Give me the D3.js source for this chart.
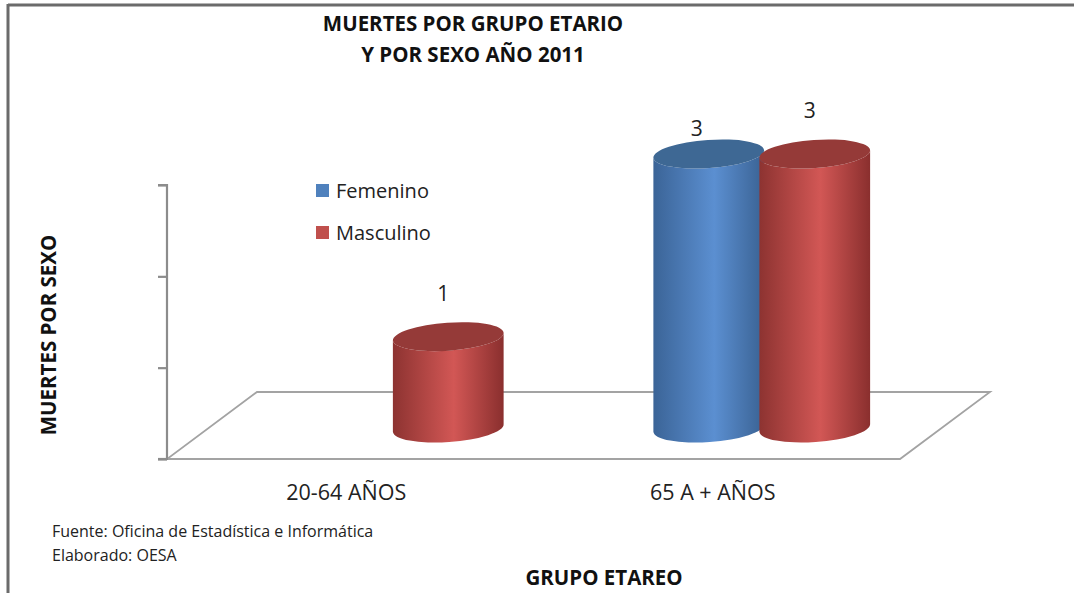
<!DOCTYPE html>
<html><head><meta charset="utf-8">
<script src="https://cdn.jsdelivr.net/npm/d3@7"></script>
<style>
html,body{margin:0;padding:0;background:#fff;}
svg{display:block;font-family:"Open Sans",sans-serif;}
</style></head>
<body>
<svg id="chart" width="1074" height="593"></svg>
<script>
// ---- data ----
const categories = ["20-64 AÑOS", "65 A + AÑOS"];
const seriesNames = ["Femenino", "Masculino"];
const femenino = [0, 3];
const masculino = [1, 3];
const yTicks = [0, 1, 2, 3];
const titleLines = ["MUERTES POR GRUPO ETARIO", "Y POR SEXO AÑO 2011"];
const yTitle = "MUERTES POR SEXO";
const xTitle = "GRUPO ETAREO";
const notes = ["Fuente: Oficina de Estadística e Informática", "Elaborado: OESA"];

const seriesValues = [femenino, masculino];
const colors = {
  Femenino: {edge:"#3b6497", light:"#5b8fd1", right:"#3a6293", top:"#3e6894"},
  Masculino:{edge:"#8d3331", light:"#d25755", right:"#8a2f2e", top:"#953a38"}
};

const svg = d3.select("#chart");
const W = 1074, H = 593;

// frame
svg.append("line").attr("x1",8).attr("x2",W).attr("y1",5).attr("y2",5).attr("stroke","#6b6b6b").attr("stroke-width",3);
svg.append("line").attr("x1",8).attr("x2",8).attr("y1",4).attr("y2",H).attr("stroke","#6b6b6b").attr("stroke-width",3);

// scales (front plane)
const x0 = d3.scaleBand().domain(categories).range([167, 900]).padding(0);
const y = d3.scaleLinear().domain([0, 3]).range([459, 185]);
const depthX = 90, depthY = 67;     // floor depth
const barDX = 45, barDY = 31;       // bars placed mid-depth
const barW = 111, barGap = 53;      // half distance between series centers
const ry = 14, tilt = -4;           // ellipse radius & tilt (deg)

// floor
const fl = 167, fr = 900, fy = y(0);
svg.append("path")
  .attr("d", `M${fl},${fy} L${fr},${fy} L${fr+depthX},${fy-depthY} L${fl+depthX},${fy-depthY} Z`)
  .attr("fill","none").attr("stroke","#a3a3a3").attr("stroke-width",1.8);

// y axis
const yAxis = d3.axisLeft(y).tickValues(yTicks).tickSize(9).tickFormat("");
const ya = svg.append("g").attr("transform", `translate(${fl},0)`).call(yAxis);
ya.select(".domain").attr("stroke","#8c8c8c").attr("stroke-width",2.2).attr("d", `M-9,${y(3)}H0V${y(0)}H-9`);
ya.selectAll(".tick line").attr("stroke","#8c8c8c").attr("stroke-width",2.2);
svg.append("line").attr("x1",fl-9).attr("x2",fl).attr("y1",fy).attr("y2",fy).attr("stroke","#8c8c8c").attr("stroke-width",2.2);

// gradients
const defs = svg.append("defs");
seriesNames.forEach(s => {
  const g = defs.append("linearGradient").attr("id","g-"+s).attr("x1",0).attr("x2",1).attr("y1",0).attr("y2",0);
  g.append("stop").attr("offset","0%").attr("stop-color",colors[s].edge);
  g.append("stop").attr("offset","55%").attr("stop-color",colors[s].light);
  g.append("stop").attr("offset","100%").attr("stop-color",colors[s].right);
});

// bars data
const bars = [];
categories.forEach((c, i) => {
  seriesNames.forEach((s, j) => {
    bars.push({cat:c, series:s, j, value: seriesValues[j][i]});
  });
});

const rad = tilt * Math.PI / 180;
const a = barW / 2;
const ex = a * Math.cos(rad), ey = a * Math.sin(rad);

const barG = svg.append("g");
bars.filter(d => d.value > 0).forEach(d => {
  const cx = x0(d.cat) + x0.bandwidth()/2 + barDX + (d.j === 0 ? -barGap : barGap);
  const yb = y(0) - barDY;
  const yt = y(d.value) - barDY;
  const side = `M${cx-ex},${yt-ey} A${a},${ry} ${tilt} 0 0 ${cx+ex},${yt+ey} L${cx+ex},${yb+ey} A${a},${ry} ${tilt} 0 1 ${cx-ex},${yb-ey} Z`;
  barG.append("path").attr("d", side).attr("fill", `url(#g-${d.series})`);
  barG.append("ellipse").attr("cx",cx).attr("cy",yt).attr("rx",a).attr("ry",ry)
    .attr("transform",`rotate(${tilt},${cx},${yt})`).attr("fill",colors[d.series].top);
  d.cx = cx; d.yt = yt;
});

// value labels
const lblOff = {Femenino:{dx:-12, dy:-18}, Masculino:{dx:-5, dy:-36}};
bars.filter(d => d.value > 0).forEach(d => {
  svg.append("text").attr("x", d.cx + lblOff[d.series].dx).attr("y", d.yt + lblOff[d.series].dy)
    .attr("text-anchor","middle").attr("font-size",21).attr("fill","#222").text(d.value);
});

// category labels
svg.selectAll(".cat").data(categories).join("text")
  .attr("x", d => x0(d) + x0.bandwidth()/2 - 4).attr("y", 500)
  .attr("text-anchor","middle").attr("font-size",21.5).attr("fill","#222").text(d => d);

// legend
const leg = svg.append("g");
seriesNames.forEach((s, i) => {
  leg.append("rect").attr("x",316).attr("y",184 + i*42).attr("width",13).attr("height",13).attr("fill", s === "Femenino" ? "#4f81bd" : "#c0504d");
  leg.append("text").attr("x",336).attr("y",198 + i*42).attr("font-size",20).attr("fill","#222").text(s);
});

// titles
svg.selectAll(".title").data(titleLines).join("text")
  .attr("x", 473).attr("y", (d,i) => 31 + i*31)
  .attr("text-anchor","middle").attr("font-weight","bold").attr("font-size",20.5).attr("fill","#111").text(d => d);

svg.append("text").attr("transform","translate(56,335) rotate(-90)")
  .attr("text-anchor","middle").attr("font-weight","bold").attr("font-size",20.5).attr("fill","#111").text(yTitle);

svg.append("text").attr("x",604).attr("y",585).attr("text-anchor","middle")
  .attr("font-weight","bold").attr("font-size",20.5).attr("fill","#111").text(xTitle);

svg.selectAll(".note").data(notes).join("text")
  .attr("x",52).attr("y",(d,i) => 537 + i*24).attr("font-size",16).attr("fill","#222").text(d => d);
</script>
</body></html>
